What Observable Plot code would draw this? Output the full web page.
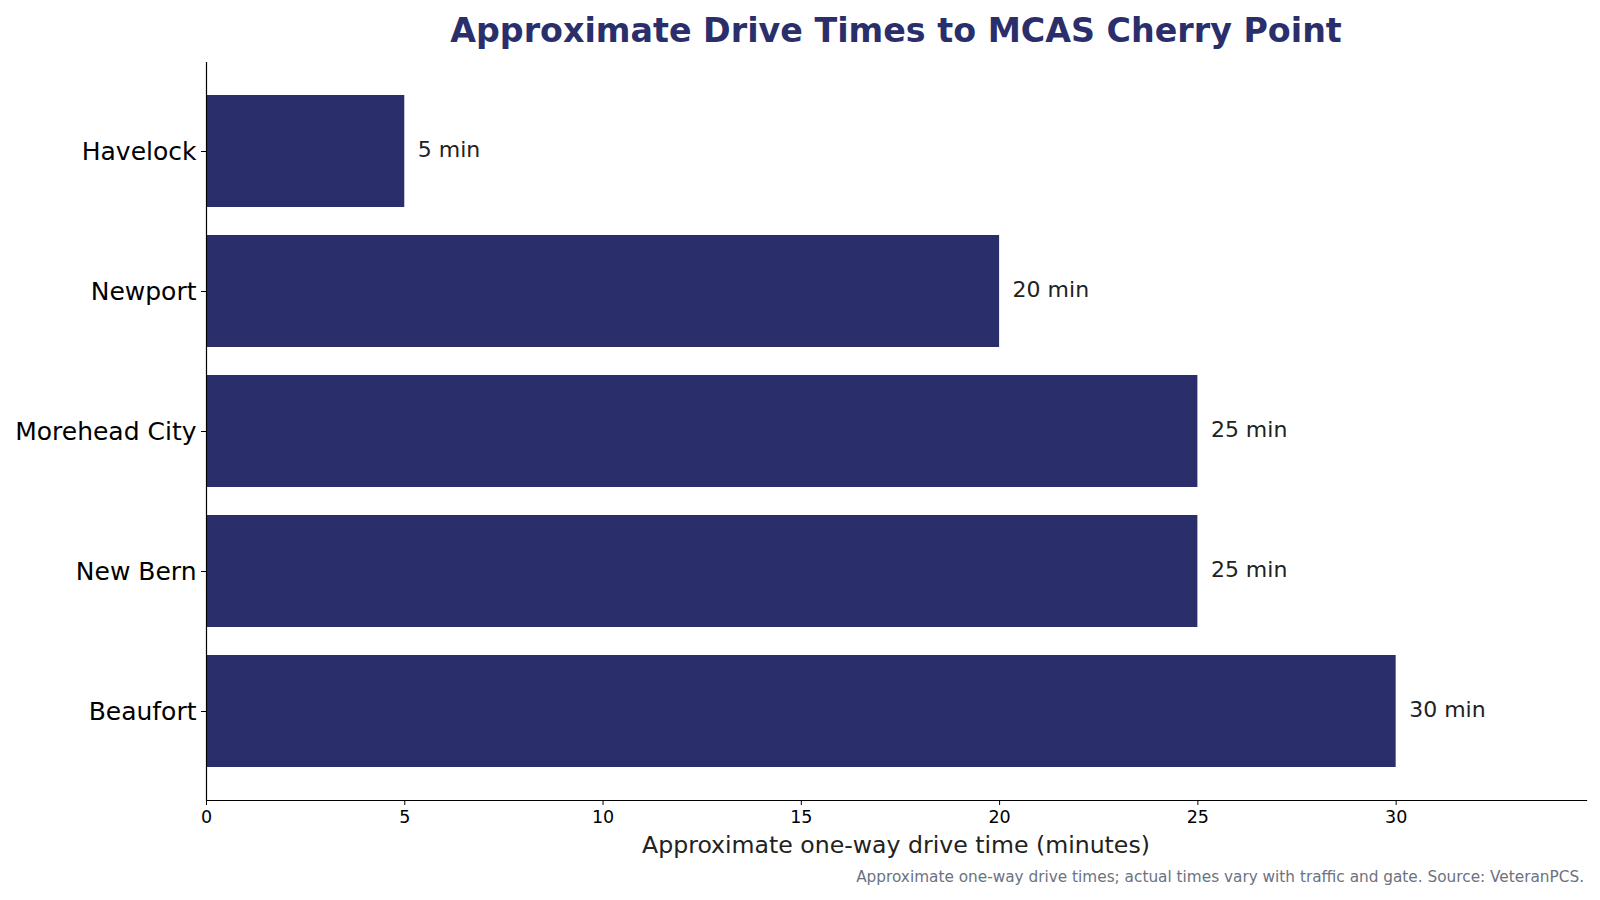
<!DOCTYPE html>
<html>
<head>
<meta charset="utf-8">
<script src="https://cdn.jsdelivr.net/npm/d3@7"></script>
<script src="https://cdn.jsdelivr.net/npm/@observablehq/plot@0.6"></script>
<style>
  html, body { margin: 0; padding: 0; background: #fff; }
  body { font-family: "DejaVu Sans", sans-serif; width: 1600px; height: 900px; overflow: hidden; }
  #title {
    margin-left: 206px; width: 1380px; height: 58px; line-height: 62px;
    text-align: center; font-size: 33.3px; font-weight: bold; color: #2a2f6b;
    white-space: nowrap;
  }
  #xlabel {
    margin-left: 206px; width: 1380px; height: 30px; line-height: 30px;
    text-align: center; font-size: 23.6px; color: #222;
  }
  #caption {
    width: 1584px; height: 34px; line-height: 34px;
    text-align: right; font-size: 15.3px; color: #6b7280; white-space: nowrap;
  }
  svg { display: block; }
</style>
</head>
<body>
<div id="title">Approximate Drive Times to MCAS Cherry Point</div>
<div id="chart"></div>
<div id="xlabel">Approximate one-way drive time (minutes)</div>
<div id="caption">Approximate one-way drive times; actual times vary with traffic and gate. Source: VeteranPCS.</div>
<script>
// Towns around the air station and their one-way drive times (minutes)
const places = ["Havelock", "Newport", "Morehead City", "New Bern", "Beaufort"];
const minutes = [5, 20, 25, 25, 30];
const xTicks = [0, 5, 10, 15, 20, 25, 30];

const rows = places.map((place, i) => ({place, minutes: minutes[i]}));
const navy = "#2a2f6b";

const chart = Plot.plot({
  width: 1600,
  height: 772,
  marginTop: 4,
  marginBottom: 30,
  marginLeft: 206,
  marginRight: 14,
  style: {fontFamily: "DejaVu Sans, sans-serif", color: "#000", background: "#fff"},
  x: {domain: [0, 34.8]},
  y: {domain: places, paddingInner: 0.2, paddingOuter: 0.23, align: 0.5},
  marks: [
    Plot.barX(rows, {x: "minutes", y: "place", fill: navy, insetTop: 0, insetBottom: 0}),
    Plot.text(rows, {
      x: "minutes", y: "place", text: d => `${d.minutes} min`,
      dx: 13, dy: -1.5, textAnchor: "start", fontSize: 22, fill: "#222"
    }),
    Plot.ruleX([0], {stroke: "#000", strokeWidth: 1.2}),
    Plot.frame({anchor: "bottom", stroke: "#000", strokeWidth: 1.2}),
    Plot.axisX({ticks: xTicks, tickSize: 5, tickPadding: 5.5, fontSize: 17.5, label: null, stroke: "#000"}),
    Plot.axisY({tickSize: 5, tickPadding: 5, fontSize: 25, label: null, stroke: "#000"})
  ]
});
document.getElementById("chart").appendChild(chart);
</script>
</body>
</html>
